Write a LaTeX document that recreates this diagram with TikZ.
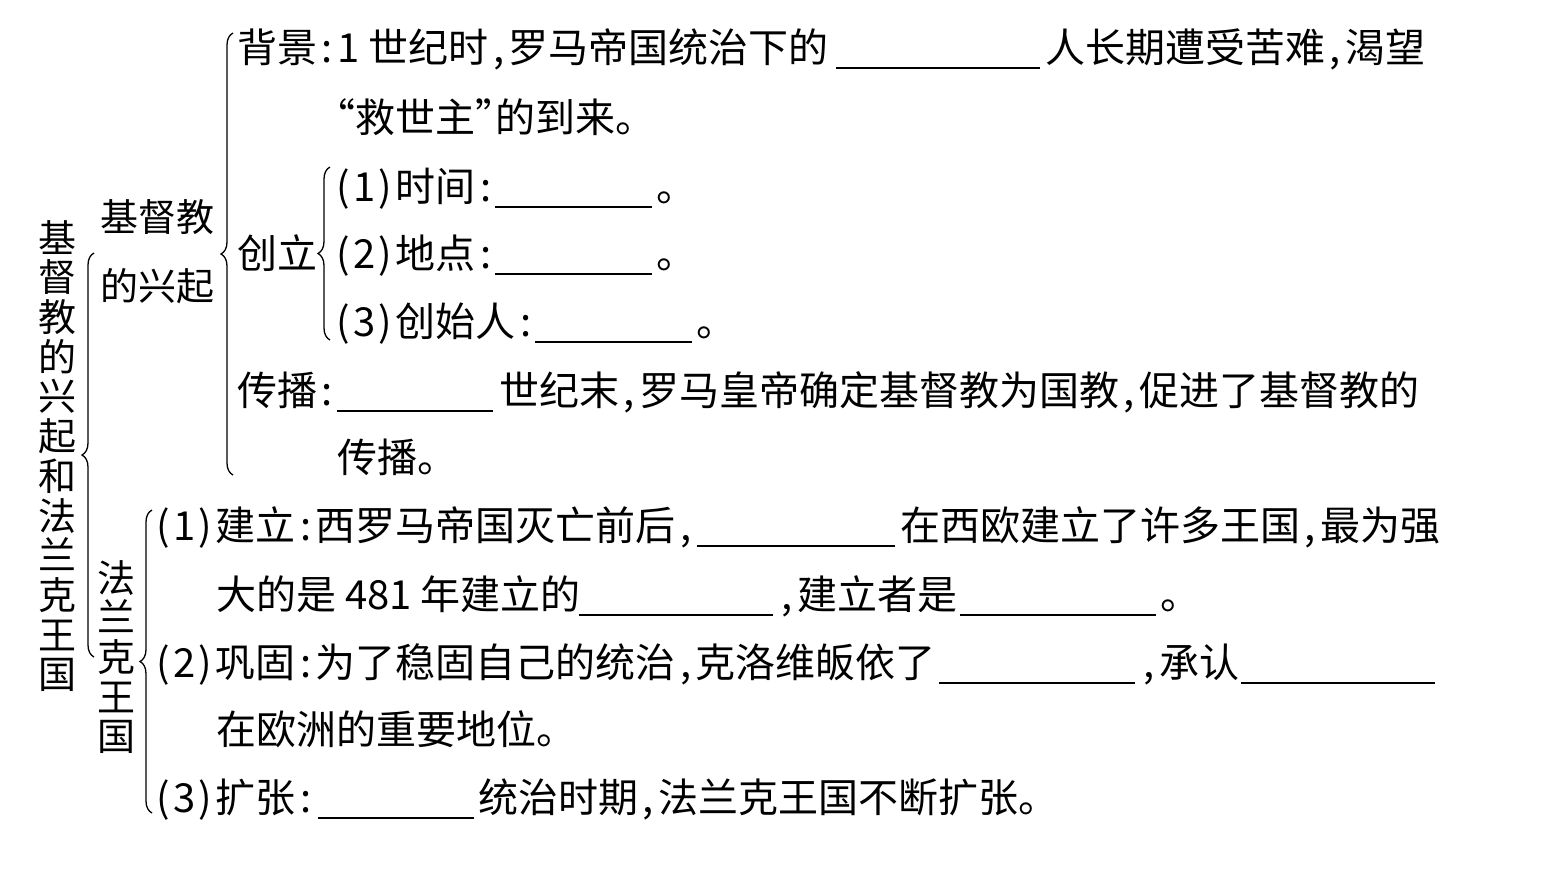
\documentclass[tikz,border=0pt]{standalone}
\usepackage{fontspec}
\setmainfont{Noto Sans CJK SC}
\usetikzlibrary{decorations.pathreplacing}
\newcommand{\hfcomma}{\makebox[0.5em][c]{,}}
\newcommand{\hfcolon}{\makebox[0.5em][c]{:}}
\newcommand{\pnum}[1]{\makebox[0.5em][c]{(}#1\makebox[0.5em][c]{)}}
\newcommand{\hflquote}{\makebox[0.5em][r]{“}}
\newcommand{\hfrquote}{\makebox[0.5em][l]{”}}
\newcommand{\tightlines}{\lineskiplimit-20pt\relax}

\begin{document}
\begin{tikzpicture}[
  x=0.5pt, y=-0.5pt,
  font=\fontsize{20pt}{24pt}\selectfont,
  txt/.style={anchor=base west, inner sep=0pt},
  vtxt/.style={align=center, inner sep=0pt,
               font={\fontsize{19pt}{#1}\selectfont\tightlines}},
  brc/.style={decorate, decoration={brace, amplitude=6pt}, line width=0.65pt},
  blank/.style={line width=0.8pt},
]
  \path[fill=white, use as bounding box] (0,0) rectangle (1557,891);

  % --- root ---------------------------------------------------------
  \node[vtxt=19.85pt] (title) at (58,456)
    {基\\督\\教\\的\\兴\\起\\和\\法\\兰\\克\\王\\国};
  \coordinate (root-top) at (94,253);
  \coordinate (root-bot) at (94,657);
  \draw[brc] (root-bot) -- (root-top);

  % --- rise of christianity -----------------------------------------
  \node[vtxt=34.5pt] (rise) at (157,252) {基督教\\的兴起};
  \coordinate (rise-top) at (233,33);
  \coordinate (rise-bot) at (233,475);
  \draw[brc] (rise-bot) -- (rise-top);

  \node[txt] (bg1) at (237,62) {背景\hfcolon 1 世纪时\hfcomma 罗马帝国统治下的};
  \draw[blank] (836,68) -- (1040,68);
  \node[txt] (bg2) at (1045,62) {人长期遭受苦难\hfcomma 渴望};
  \node[txt] (bg3) at (335,132) {\hflquote 救世主\hfrquote 的到来。};

  \node[txt] (found) at (237,268) {创立};
  \coordinate (found-top) at (330,167);
  \coordinate (found-bot) at (330,340);
  \draw[brc] (found-bot) -- (found-top);

  \node[txt] (time) at (333,201) {\pnum{1}时间\hfcolon};
  \draw[blank] (495,207) -- (652,207);
  \node[txt] (time-end) at (656,201) {。};
  \node[txt] (place) at (333,268) {\pnum{2}地点\hfcolon};
  \draw[blank] (495,274) -- (652,274);
  \node[txt] (place-end) at (656,268) {。};
  \node[txt] (founder) at (333,336) {\pnum{3}创始人\hfcolon};
  \draw[blank] (535,342) -- (692,342);
  \node[txt] (founder-end) at (696,336) {。};

  \node[txt] (spread1) at (237,405) {传播\hfcolon};
  \draw[blank] (337,411) -- (493,411);
  \node[txt] (spread2) at (499,405)
    {世纪末\hfcomma 罗马皇帝确定基督教为国教\hfcomma 促进了基督教的};
  \node[txt] (spread3) at (337,472) {传播。};

  % --- frankish kingdom ---------------------------------------------
  \node[vtxt=19.85pt] (frank) at (116,657) {法\\兰\\克\\王\\国};
  \coordinate (frank-top) at (152,510);
  \coordinate (frank-bot) at (152,813);
  \draw[brc] (frank-bot) -- (frank-top);

  \node[txt] (est1) at (153,540) {\pnum{1}建立\hfcolon 西罗马帝国灭亡前后\hfcomma};
  \draw[blank] (697,546) -- (895,546);
  \node[txt] (est2) at (900,540) {在西欧建立了许多王国\hfcomma 最为强};
  \node[txt] (est3) at (216,609) {大的是 481 年建立的};
  \draw[blank] (579,615) -- (773,615);
  \node[txt] (est4) at (777,609) {\hfcomma 建立者是};
  \draw[blank] (960,615) -- (1156,615);
  \node[txt] (est-end) at (1160,609) {。};

  \node[txt] (cons1) at (153,677) {\pnum{2}巩固\hfcolon 为了稳固自己的统治\hfcomma 克洛维皈依了};
  \draw[blank] (939,683) -- (1135,683);
  \node[txt] (cons2) at (1139,677) {\hfcomma 承认};
  \draw[blank] (1241,683) -- (1435,683);
  \node[txt] (cons3) at (216,744) {在欧洲的重要地位。};

  \node[txt] (exp1) at (153,812) {\pnum{3}扩张\hfcolon};
  \draw[blank] (318,818) -- (474,818);
  \node[txt] (exp2) at (478,812) {统治时期\hfcomma 法兰克王国不断扩张。};
\end{tikzpicture}
\end{document}
